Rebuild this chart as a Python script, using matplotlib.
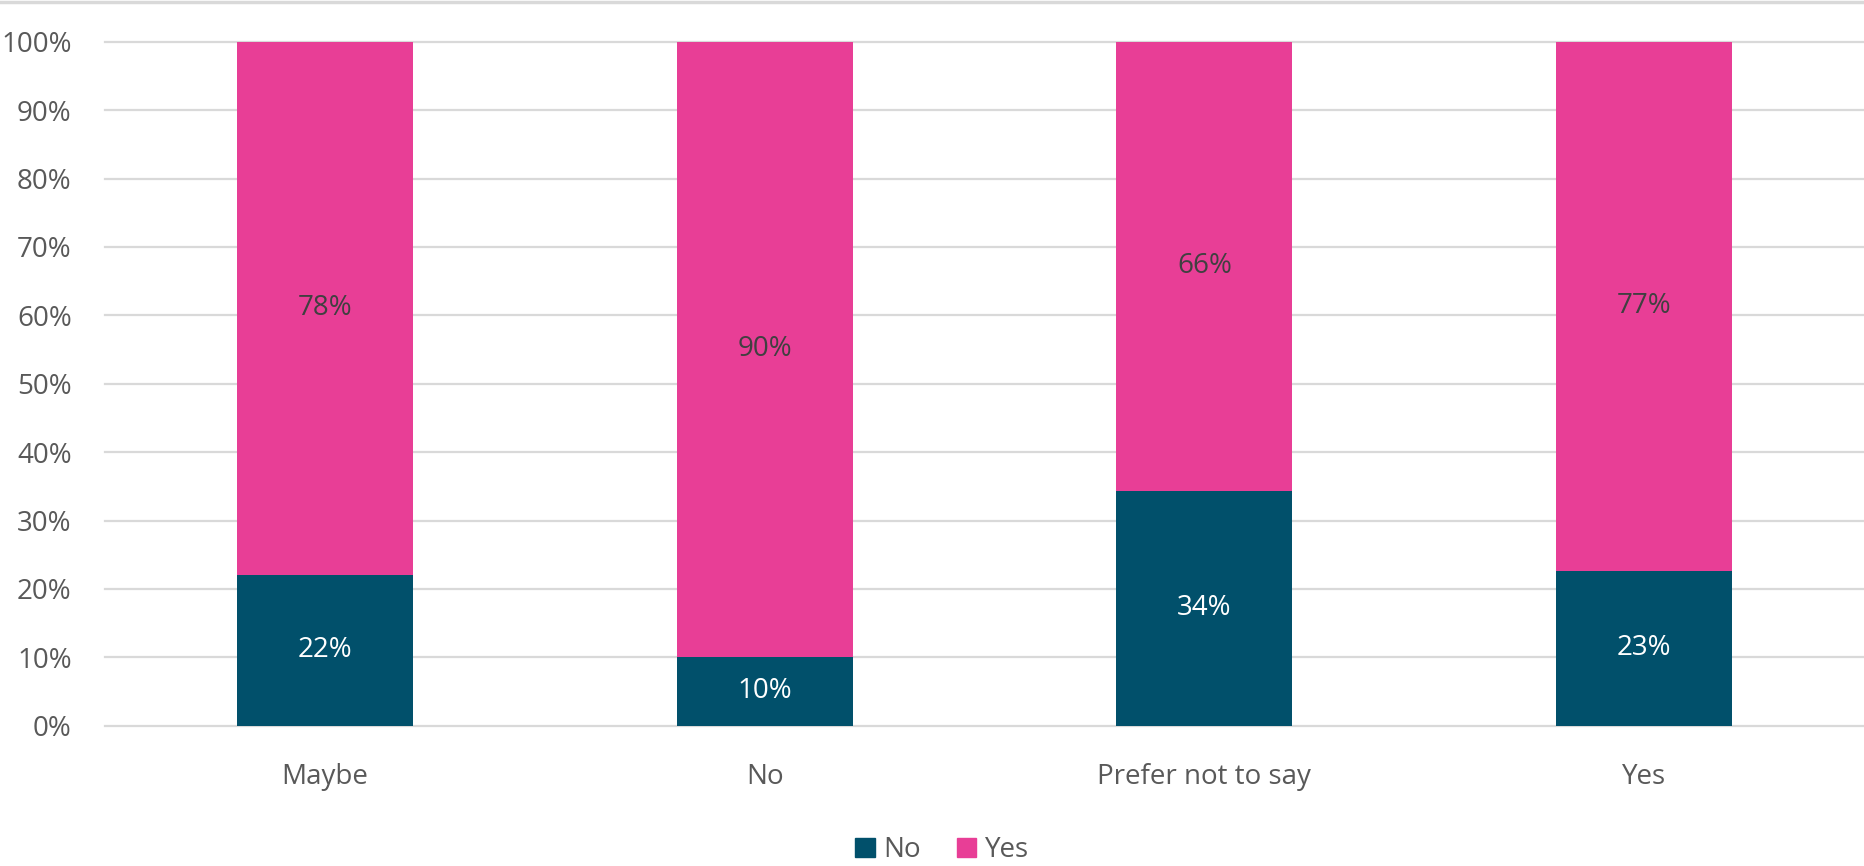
import matplotlib.pyplot as plt
from matplotlib.lines import Line2D

categories = ['Maybe', 'No', 'Prefer not to say', 'Yes']
no_vals = [22.1, 10.0, 34.3, 22.6]
yes_vals = [77.9, 90.0, 65.7, 77.4]
no_labels = ['22%', '10%', '34%', '23%']
yes_labels = ['78%', '90%', '66%', '77%']
yticks = [0, 10, 20, 30, 40, 50, 60, 70, 80, 90, 100]

NO_COLOR = '#01506B'
YES_COLOR = '#E83E96'
TEXT = '#595959'
FS = 20

plt.rcParams['font.family'] = ['Open Sans', 'DejaVu Sans']

fig = plt.figure(figsize=(18.64, 8.66), dpi=100)
ax = fig.add_axes([105 / 1864, 1 - 725.7 / 866, 1 - 105 / 1864, (725.7 - 41.7) / 866])

x = range(len(categories))
b1 = ax.bar(x, no_vals, width=0.4, color=NO_COLOR, zorder=3)
b2 = ax.bar(x, yes_vals, width=0.4, bottom=no_vals, color=YES_COLOR, zorder=3)

ax.bar_label(b1, labels=no_labels, label_type='center', color='white', fontsize=FS)
ax.bar_label(b2, labels=yes_labels, label_type='center', color='#404040', fontsize=FS)

ax.set_xlim(-0.5, len(categories) - 0.5)
ax.set_ylim(0, 100)
ax.set_yticks(yticks)
ax.set_yticklabels([f'{t}%' for t in yticks])
ax.set_xticks(list(x))
ax.set_xticklabels(categories)
ax.tick_params(axis='both', length=0, labelsize=FS, colors=TEXT)
ax.tick_params(axis='y', pad=24)
ax.tick_params(axis='x', pad=27)

ax.yaxis.grid(True, color='#D9D9D9', linewidth=1.6, zorder=0)
for gl in ax.get_ygridlines():
    gl.set_clip_on(False)
for s in ax.spines.values():
    s.set_visible(False)

# thin border line at the top of the chart
fig.add_artist(Line2D([0, 1], [1 - 1.5 / 866, 1 - 1.5 / 866], color='#D9D9D9', linewidth=2.5))

handles = [plt.Rectangle((0, 0), 1, 1, color=NO_COLOR), plt.Rectangle((0, 0), 1, 1, color=YES_COLOR)]
fig.legend(handles, ['No', 'Yes'], loc='center', bbox_to_anchor=(942 / 1864, 1 - 850 / 866),
           ncol=2, frameon=False, fontsize=FS, labelcolor=TEXT, handlelength=0.7, handleheight=0.7,
           handletextpad=0.3, columnspacing=1.3)

fig.savefig('out.png', dpi=100)
